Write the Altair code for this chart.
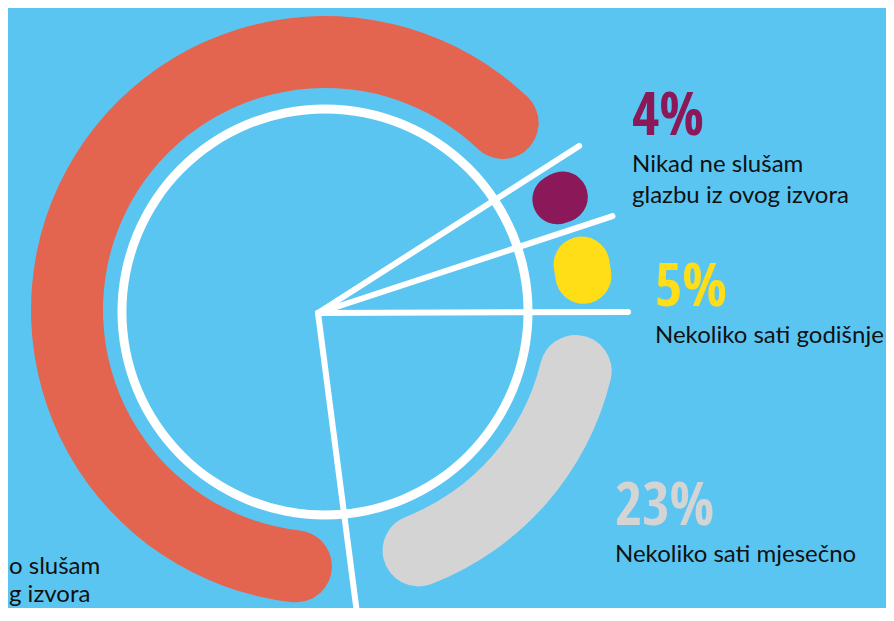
import math
import altair as alt
import pandas as pd

# ---- data ----
categories = ["Nikad ne slušam glazbu iz ovog izvora", "Nekoliko sati godišnje",
              "Nekoliko sati mjesečno", "… slušam glazbu iz ovog izvora"]
percentages = [4, 5, 23, 68]
colors = ["#8B1858", "#FFDD17", "#D4D4D4", "#E4654F"]
label_lines = [["Nikad ne slušam", "glazbu iz ovog izvora"],
               ["Nekoliko sati godišnje"],
               ["Nekoliko sati mjesečno"],
               ["o slušam", "g izvora"]]

# ---- styling constants ----
BG = "#5BC5F2"
W, H = 878, 600
START_DEG = 57.4          # where the first slice starts (0 = 12 o'clock, clockwise)
BAND_GAP = 1.625          # gap (percent units) at each end of the thick bands
BLOB_GAP = 0.5            # gap (percent units) at each side of the small blobs
RAY_CX, RAY_CY = 310, 305
BAND_CX, BAND_CY = 317, 302
RING_CX, RING_CY = 317, 304

df = pd.DataFrame({"cat": categories, "value": percentages, "color": colors})
df["end"] = df["value"].cumsum()
df["start"] = df["end"] - df["value"]

start_rad = math.radians(START_DEG)
theta_scale = alt.Scale(domain=[0, 100], range=[start_rad, start_rad + 2 * math.pi])
color_scale = alt.Scale(domain=categories, range=colors)

# thick bands (23 % and 68 %)
bands_df = df.iloc[2:].copy()
bands_df["t0"] = bands_df["start"] + BAND_GAP
bands_df["t1"] = bands_df["end"] - BAND_GAP
bands = alt.Chart(bands_df).mark_arc(radius=294, radius2=222, cornerRadius=36).encode(
    theta=alt.Theta("t0:Q", scale=theta_scale, stack=None),
    theta2="t1:Q",
    color=alt.Color("cat:N", scale=color_scale, legend=None),
    x=alt.value(BAND_CX), y=alt.value(BAND_CY),
)

# small blobs (4 % and 5 %)
blobs_df = df.iloc[:2].copy()
blobs_df["t0"] = blobs_df["start"] + BLOB_GAP
blobs_df["t1"] = blobs_df["end"] - BLOB_GAP
blobs = alt.Chart(blobs_df).mark_arc(radius=296, radius2=240, cornerRadius=28).encode(
    theta=alt.Theta("t0:Q", scale=theta_scale, stack=None),
    theta2="t1:Q",
    color=alt.Color("cat:N", scale=color_scale, legend=None),
    x=alt.value(RAY_CX), y=alt.value(RAY_CY),
)

# white ring
ring = alt.Chart(pd.DataFrame({"r": [1]})).mark_arc(
    radius=207.5, radius2=198.5, color="white").encode(
    theta=alt.value(0), theta2=alt.value(2 * math.pi),
    x=alt.value(RING_CX), y=alt.value(RING_CY),
)

# white rays at the slice boundaries
rays_df = pd.DataFrame({"b": df["start"].tolist()})
rays = alt.Chart(rays_df).mark_arc(
    radius=310, radius2=0, filled=False, stroke="white", strokeWidth=6,
    strokeJoin="round", strokeCap="round").encode(
    theta=alt.Theta("b:Q", scale=theta_scale, stack=None),
    theta2="b:Q",
    x=alt.value(RAY_CX), y=alt.value(RAY_CY),
)

PCT_FONT = ("Noto Sans ExtraCondensed, Noto Sans Condensed, Open Sans Condensed, "
            "Liberation Sans Narrow, DejaVu Sans Condensed, sans-serif")
LBL_FONT = "Lato, Open Sans, sans-serif"
one = pd.DataFrame({"r": [1]})


def pct_text(i, x, y):
    return alt.Chart(one).mark_text(
        align="left", baseline="alphabetic", font=PCT_FONT, fontWeight=500,
        fontSize=59, color=colors[i]).encode(
        text=alt.value(f"{percentages[i]}%"), x=alt.value(x), y=alt.value(y))


def lbl_text(i, x, y, align="left", line_height=31):
    lines = label_lines[i]
    return alt.Chart(one).mark_text(
        align=align, baseline="alphabetic", font=LBL_FONT, fontSize=24,
        lineHeight=line_height, color="#111111").encode(
        text=alt.value(lines if len(lines) > 1 else lines[0]),
        x=alt.value(x), y=alt.value(y))


texts = [
    pct_text(0, 624, 127), lbl_text(0, 624, 164),
    pct_text(1, 647, 298), lbl_text(1, 647, 335),
    pct_text(2, 607, 517), lbl_text(2, 607, 554),
    lbl_text(3, 1, 566, line_height=28),
]

chart = alt.layer(bands, blobs, ring, rays, *texts).properties(
    width=W, height=H, background=BG, padding=0,
    autosize=alt.AutoSizeParams(type="none"),
).configure_view(stroke=None)

chart.save("out.html", embed_options={"renderer": "svg", "actions": False})
